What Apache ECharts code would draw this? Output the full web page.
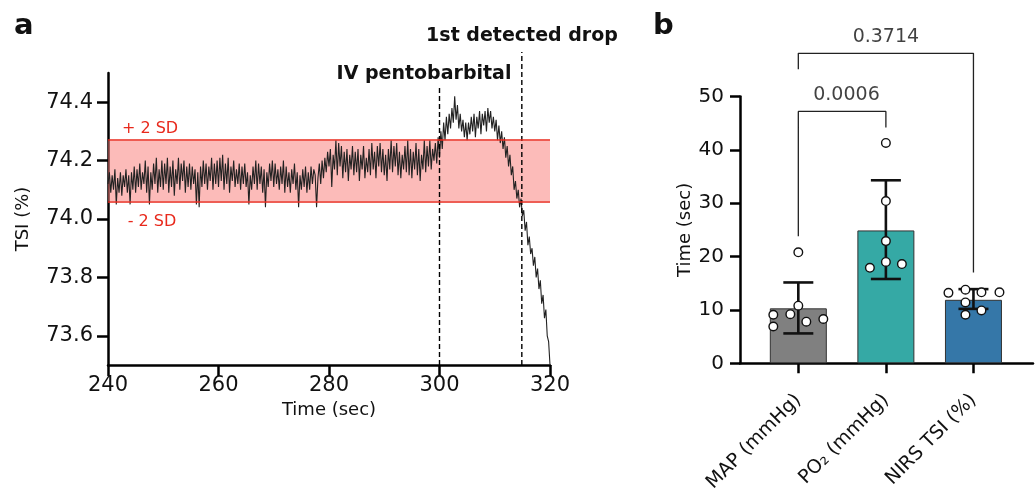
<!DOCTYPE html>
<html>
<head>
<meta charset="utf-8">
<title>TSI trace and detection time</title>
<script src="https://cdn.jsdelivr.net/npm/echarts@6/dist/echarts.min.js"></script>
<style>
    html, body { margin: 0; padding: 0; background: #fff; }
    #main { width: 1035px; height: 492px; }
</style>
</head>
<body>
<div id="main"></div>
<script>
// ---------- panel a : NIRS TSI trace ----------
var sampleStart = 240;   // sec
var sampleStep = 0.25;   // sec between samples
var tsiValues = [
    74.12, 74.16, 74.09, 74.15, 74.10, 74.17, 74.05, 74.14, 74.09, 74.16, 74.08, 74.15, 74.11, 74.17, 74.09, 74.15, 74.05, 74.16, 74.10, 74.18,
    74.09, 74.17, 74.11, 74.19, 74.10, 74.16, 74.12, 74.20, 74.09, 74.18, 74.05, 74.16, 74.10, 74.19, 74.12, 74.21, 74.09, 74.17, 74.11, 74.20,
    74.10, 74.19, 74.12, 74.21, 74.09, 74.18, 74.11, 74.20, 74.08, 74.17, 74.12, 74.21, 74.10, 74.19, 74.13, 74.20, 74.09, 74.18, 74.11, 74.19,
    74.10, 74.18, 74.12, 74.17, 74.05, 74.16, 74.04, 74.18, 74.11, 74.20, 74.12, 74.19, 74.10, 74.18, 74.13, 74.21, 74.10, 74.19, 74.12, 74.20,
    74.11, 74.21, 74.13, 74.22, 74.10, 74.19, 74.12, 74.21, 74.09, 74.18, 74.13, 74.20, 74.11, 74.17, 74.12, 74.19, 74.10, 74.18, 74.12, 74.19,
    74.11, 74.16, 74.05, 74.15, 74.10, 74.18, 74.12, 74.20, 74.10, 74.19, 74.12, 74.18, 74.09, 74.17, 74.04, 74.16, 74.11, 74.19, 74.13, 74.20,
    74.11, 74.19, 74.12, 74.17, 74.10, 74.18, 74.12, 74.20, 74.09, 74.18, 74.11, 74.16, 74.09, 74.17, 74.12, 74.19, 74.10, 74.16, 74.04, 74.15,
    74.10, 74.17, 74.11, 74.18, 74.09, 74.16, 74.10, 74.18, 74.12, 74.17, 74.15, 74.04, 74.14, 74.19, 74.12, 74.20, 74.14, 74.21, 74.16, 74.23,
    74.18, 74.24, 74.11, 74.22, 74.17, 74.27, 74.15, 74.26, 74.18, 74.25, 74.14, 74.23, 74.16, 74.24, 74.13, 74.22, 74.17, 74.25, 74.15, 74.23,
    74.16, 74.24, 74.13, 74.22, 74.17, 74.25, 74.14, 74.21, 74.16, 74.24, 74.15, 74.26, 74.17, 74.23, 74.14, 74.25, 74.18, 74.26, 74.16, 74.24,
    74.15, 74.22, 74.13, 74.24, 74.17, 74.27, 74.16, 74.25, 74.18, 74.26, 74.15, 74.23, 74.14, 74.22, 74.17, 74.25, 74.16, 74.27, 74.15, 74.24,
    74.14, 74.23, 74.17, 74.26, 74.15, 74.24, 74.13, 74.22, 74.17, 74.27, 74.16, 74.25, 74.18, 74.27, 74.17, 74.24, 74.20, 74.26, 74.19, 74.28,
    74.21, 74.30, 74.24, 74.33, 74.27, 74.35, 74.29, 74.36, 74.31, 74.38, 74.33, 74.42, 74.34, 74.39, 74.31, 74.36, 74.30, 74.34, 74.28, 74.33,
    74.27, 74.33, 74.29, 74.35, 74.30, 74.36, 74.28, 74.35, 74.31, 74.37, 74.29, 74.36, 74.32, 74.37, 74.30, 74.38, 74.33, 74.37, 74.31, 74.35,
    74.30, 74.34, 74.27, 74.32, 74.26, 74.30, 74.24, 74.28, 74.21, 74.25, 74.18, 74.22, 74.15, 74.18, 74.10, 74.13, 74.07, 74.10, 74.04, 74.07,
    74.01, 74.03, 73.96, 73.99, 73.91, 73.94, 73.88, 73.90, 73.84, 73.87, 73.80, 73.83, 73.76, 73.79, 73.71, 73.74, 73.66, 73.69, 73.60, 73.58,
    73.50
];
var sdUpper = 74.268;    // + 2 SD
var sdLower = 74.062;    // - 2 SD
var eventTimes = [300, 314.9];
var eventNames = ['IV pentobarbital', '1st detected drop'];
var tsiTicks = [73.6, 73.8, 74.0, 74.2, 74.4];
var timeTicks = [240, 260, 280, 300, 320];

// ---------- panel b : detection time ----------
var categories = ['MAP (mmHg)', 'PO₂ (mmHg)', 'NIRS TSI (%)'];
var means = [10.3, 24.9, 11.9];
var sdLow = [5.6, 15.8, 10.2];
var sdHigh = [15.15, 34.3, 13.9];
var mapPoints = [20.8, 10.8, 9.1, 9.2, 7.8, 8.3, 6.9];
var po2Points = [41.3, 30.4, 22.9, 19.0, 17.9, 18.6];
var nirsPoints = [13.2, 13.8, 13.3, 13.3, 11.4, 9.1, 9.9];
var pValues = ['0.0006', '0.3714'];
var timeAxisTicks = [0, 10, 20, 30, 40, 50];

var FONT = 'DejaVu Sans';
var barColors = ['#808080', '#35a9a5', '#3577a8'];
// horizontal jitter of the dots, px
var jitter = [
    [0, 0, -25, -8, 8, 25, -25],
    [0, 0, 0, 0, -16, 16],
    [-25, -8, 8, 26, -8, -8, 8]
];

var chartDom = document.getElementById('main');
var myChart = echarts.init(chartDom);

var tsiData = tsiValues.map(function (v, i) {
    return [sampleStart + i * sampleStep, v];
});

var dotData = [];
[mapPoints, po2Points, nirsPoints].forEach(function (pts, c) {
    pts.forEach(function (v, k) {
        dotData.push([c, v, jitter[c][k]]);
    });
});

var errData = means.map(function (m, i) {
    return [i, sdLow[i], sdHigh[i]];
});

var axisLineStyle = { color: '#000', width: 2.5 };
var tickStyle = { color: '#000', width: 2.5 };

// dashed event markers: line from the x axis up past the plot top
var eventTops = [74.45, 74.572];
var eventSeries = eventTimes.map(function (t, i) {
    return {
        type: 'line',
        xAxisIndex: 0,
        yAxisIndex: 0,
        clip: false,
        silent: true,
        showSymbol: false,
        z: 4,
        lineStyle: { color: '#000', width: 1.4, type: [5, 3] },
        data: [[t, 73.5], [t, eventTops[i]]]
    };
});

var option = {
    animation: false,
    backgroundColor: '#fff',
    textStyle: { fontFamily: FONT },
    grid: [
        { left: 108, top: 73, width: 442, height: 292, outerBoundsMode: 'none' },
        { left: 740, top: 96.5, width: 293, height: 266.8, outerBoundsMode: 'none' }
    ],
    xAxis: [
        {
            gridIndex: 0,
            type: 'value',
            min: 240,
            max: 320,
            interval: 20,
            name: 'Time (sec)',
            nameLocation: 'middle',
            nameGap: 34,
            nameTextStyle: { fontSize: 18, color: '#111', fontFamily: FONT },
            axisLine: { onZero: false, lineStyle: axisLineStyle },
            axisTick: { length: 11, lineStyle: tickStyle },
            axisLabel: { fontSize: 21, color: '#111', margin: 10, fontFamily: FONT },
            splitLine: { show: false }
        },
        {
            gridIndex: 1,
            type: 'value',
            min: -0.666,
            max: 2.68,
            axisLine: { onZero: false, lineStyle: axisLineStyle },
            axisTick: { length: 10, lineStyle: tickStyle, customValues: [0, 1, 2] },
            axisLabel: {
                customValues: [0, 1, 2],
                rotate: 45,
                margin: 34,
                fontSize: 19,
                color: '#111',
                fontFamily: FONT,
                formatter: function (v) { return categories[Math.round(v)]; }
            },
            splitLine: { show: false }
        }
    ],
    yAxis: [
        {
            gridIndex: 0,
            type: 'value',
            min: 73.5,
            max: 74.5,
            name: 'TSI (%)',
            nameLocation: 'middle',
            nameGap: 76,
            nameTextStyle: { fontSize: 18, color: '#111', fontFamily: FONT },
            axisLine: { show: true, onZero: false, lineStyle: axisLineStyle },
            axisTick: { show: true, length: 11, lineStyle: tickStyle, customValues: tsiTicks },
            axisLabel: {
                customValues: tsiTicks,
                fontSize: 21,
                color: '#111',
                margin: 15,
                fontFamily: FONT,
                formatter: function (v) { return v.toFixed(1); }
            },
            splitLine: { show: false }
        },
        {
            gridIndex: 1,
            type: 'value',
            min: 0,
            max: 50,
            interval: 10,
            name: 'Time (sec)',
            nameLocation: 'middle',
            nameGap: 46,
            nameTextStyle: { fontSize: 18, color: '#111', fontFamily: FONT },
            axisLine: { show: true, onZero: false, lineStyle: axisLineStyle },
            axisTick: { show: true, length: 10, lineStyle: tickStyle },
            axisLabel: { fontSize: 20, color: '#111', margin: 16, fontFamily: FONT },
            splitLine: { show: false }
        }
    ],
    series: [
        {
            name: 'TSI',
            type: 'line',
            xAxisIndex: 0,
            yAxisIndex: 0,
            showSymbol: false,
            z: 3,
            lineStyle: { color: '#222', width: 1.1 },
            data: tsiData,
            markArea: {
                silent: true,
                itemStyle: { color: 'rgba(250, 120, 115, 0.5)' },
                data: [[{ yAxis: sdLower }, { yAxis: sdUpper }]]
            },
            markLine: {
                silent: true,
                symbol: 'none',
                label: { show: false },
                lineStyle: { color: '#e8291c', width: 1.5, type: 'solid' },
                data: [{ yAxis: sdUpper }, { yAxis: sdLower }]
            }
        }
    ].concat(eventSeries).concat([
        {
            name: 'mean',
            type: 'bar',
            xAxisIndex: 1,
            yAxisIndex: 1,
            barWidth: 57,
            z: 2,
            itemStyle: { borderColor: '#333', borderWidth: 1 },
            data: means.map(function (m, i) {
                return { value: [i, m], itemStyle: { color: barColors[i] } };
            })
        },
        {
            name: 'sd',
            type: 'custom',
            xAxisIndex: 1,
            yAxisIndex: 1,
            z: 3,
            encode: { x: 0, y: [1, 2] },
            data: errData,
            renderItem: function (params, api) {
                var x = api.value(0);
                var lo = api.coord([x, api.value(1)]);
                var hi = api.coord([x, api.value(2)]);
                var half = 15;
                var st = { stroke: '#111', lineWidth: 2.6 };
                return {
                    type: 'group',
                    children: [
                        { type: 'line', shape: { x1: hi[0], y1: hi[1], x2: lo[0], y2: lo[1] }, style: st },
                        { type: 'line', shape: { x1: hi[0] - half, y1: hi[1], x2: hi[0] + half, y2: hi[1] }, style: st },
                        { type: 'line', shape: { x1: lo[0] - half, y1: lo[1], x2: lo[0] + half, y2: lo[1] }, style: st }
                    ]
                };
            }
        },
        {
            name: 'points',
            type: 'custom',
            xAxisIndex: 1,
            yAxisIndex: 1,
            z: 4,
            encode: { x: 0, y: 1 },
            data: dotData,
            renderItem: function (params, api) {
                var p = api.coord([api.value(0), api.value(1)]);
                return {
                    type: 'circle',
                    shape: { cx: p[0] + api.value(2), cy: p[1], r: 4.3 },
                    style: { fill: '#fff', stroke: '#111', lineWidth: 1.4 }
                };
            }
        },
        {
            // bracket MAP vs PO2
            type: 'line',
            xAxisIndex: 1,
            yAxisIndex: 1,
            clip: false,
            silent: true,
            showSymbol: false,
            lineStyle: { color: '#222', width: 1.3 },
            data: [[0, 23.8], [0, 47.2], [1, 47.2], [1, 44.2]]
        },
        {
            // bracket MAP vs NIRS
            type: 'line',
            xAxisIndex: 1,
            yAxisIndex: 1,
            clip: false,
            silent: true,
            showSymbol: false,
            lineStyle: { color: '#222', width: 1.3 },
            data: [[0, 55.1], [0, 58.1], [2, 58.1], [2, 17.0]]
        },
        {
            type: 'scatter',
            xAxisIndex: 1,
            yAxisIndex: 1,
            clip: false,
            silent: true,
            symbolSize: 0,
            label: {
                show: true,
                position: 'top',
                distance: 7,
                fontSize: 19,
                color: '#111',
                fontFamily: FONT,
                formatter: function (p) { return pValues[p.dataIndex]; }
            },
            data: [[0.55, 47.2], [1, 58.1]]
        }
    ]),
    graphic: [
        { type: 'text', left: 14, top: 12, style: { text: 'a', font: 'bold 29px "DejaVu Sans"', fill: '#111' } },
        { type: 'text', left: 653, top: 12, style: { text: 'b', font: 'bold 29px "DejaVu Sans"', fill: '#111' } },
        { type: 'text', x: 424, y: 74, style: { text: eventNames[0], font: 'bold 19px "DejaVu Sans"', fill: '#111', align: 'center', verticalAlign: 'middle' } },
        { type: 'text', x: 522, y: 36, style: { text: eventNames[1], font: 'bold 19px "DejaVu Sans"', fill: '#111', align: 'center', verticalAlign: 'middle' } },
        { type: 'text', x: 150, y: 129, style: { text: '+ 2 SD', font: '16px "DejaVu Sans"', fill: '#e8291c', align: 'center', verticalAlign: 'middle' } },
        { type: 'text', x: 152, y: 222, style: { text: '- 2 SD', font: '16px "DejaVu Sans"', fill: '#e8291c', align: 'center', verticalAlign: 'middle' } }
    ]
};

myChart.setOption(option);

//浏览器大小改变时重置大小
window.onresize = function () {
    myChart.resize();
};
</script>
</body>
</html>
